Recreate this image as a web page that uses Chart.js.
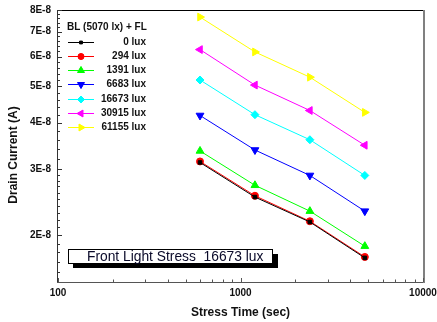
<!DOCTYPE html>
<html>
<head>
<meta charset="utf-8">
<script src="https://cdn.jsdelivr.net/npm/chart.js@4/dist/chart.umd.min.js"></script>
<style>
html,body{margin:0;padding:0;background:#fff;}
canvas{display:block;}
</style>
</head>
<body>
<canvas id="c" width="437" height="322"></canvas>
<script>
// ---- data ----
const stressTimes = [600, 1200, 2400, 4800];
const seriesNames = ['0 lux', '294 lux', '1391 lux', '6683 lux', '16673 lux', '30915 lux', '61155 lux'];
const lux0     = [3.13e-8, 2.53e-8, 2.17e-8, 1.74e-8];
const lux294   = [3.15e-8, 2.55e-8, 2.18e-8, 1.75e-8];
const lux1391  = [3.36e-8, 2.72e-8, 2.32e-8, 1.87e-8];
const lux6683  = [4.18e-8, 3.38e-8, 2.89e-8, 2.32e-8];
const lux16673 = [5.20e-8, 4.20e-8, 3.60e-8, 2.89e-8];
const lux30915 = [6.27e-8, 5.04e-8, 4.31e-8, 3.48e-8];
const lux61155 = [7.66e-8, 6.18e-8, 5.29e-8, 4.26e-8];
const yTickValues = [2e-8, 3e-8, 4e-8, 5e-8, 6e-8, 7e-8, 8e-8];
const yTickLabels = ['2E-8', '3E-8', '4E-8', '5E-8', '6E-8', '7E-8', '8E-8'];
const yMinorValues = [1.6e-8, 1.7e-8, 1.8e-8, 1.9e-8, 2.1e-8, 2.2e-8, 2.3e-8, 2.4e-8, 2.5e-8, 2.6e-8, 2.7e-8, 2.8e-8, 2.9e-8,
  3.2e-8, 3.4e-8, 3.6e-8, 3.8e-8, 4.2e-8, 4.4e-8, 4.6e-8, 4.8e-8, 5.2e-8, 5.4e-8, 5.6e-8, 5.8e-8, 6.2e-8, 6.4e-8, 6.6e-8, 6.8e-8, 7.2e-8, 7.4e-8, 7.6e-8, 7.8e-8];
const xTickValues = [100, 1000, 10000];
const xTickLabels = ['100', '1000', '10000'];
const xMinorValues = [200, 300, 400, 500, 600, 700, 800, 900, 2000, 3000, 4000, 5000, 6000, 7000, 8000, 9000];
const legendTitle = 'BL (5070 lx) + FL';
const annotationText = 'Front Light Stress  16673 lux';
const xTitle = 'Stress Time (sec)';
const yTitle = 'Drain Current (A)';

const seriesValues = [lux0, lux294, lux1391, lux6683, lux16673, lux30915, lux61155];
const colors = ['#000000', '#ff0000', '#00ff00', '#0000ff', '#00ffff', '#ff00ff', '#ffff00'];
const styles = [
  {pointStyle: 'rect', rotation: 0, radius: 2.5},
  {pointStyle: 'circle', rotation: 0, radius: 3.5},
  {pointStyle: 'triangle', rotation: 0, radius: 4.5},
  {pointStyle: 'triangle', rotation: 180, radius: 4.5},
  {pointStyle: 'rectRot', rotation: 0, radius: 4},
  {pointStyle: 'triangle', rotation: -90, radius: 4.5},
  {pointStyle: 'triangle', rotation: 90, radius: 4.5}
];

const datasets = seriesValues.map((vals, i) => ({
  label: seriesNames[i],
  data: vals.map((v, j) => ({x: stressTimes[j], y: v})),
  borderColor: colors[i],
  backgroundColor: colors[i],
  borderWidth: 1,
  pointStyle: styles[i].pointStyle,
  rotation: styles[i].rotation,
  pointRadius: styles[i].radius,
  pointBorderWidth: 1,
  tension: 0
}));

function drawMarker(ctx, st, color, x, y) {
  ctx.save();
  ctx.fillStyle = color; ctx.strokeStyle = color; ctx.lineWidth = 1;
  if (Chart.helpers && Chart.helpers.drawPoint) {
    Chart.helpers.drawPoint(ctx, {pointStyle: st.pointStyle, rotation: st.rotation, radius: st.radius - 0.5, borderWidth: 1}, x, y);
    ctx.fill();
  } else {
    ctx.beginPath(); ctx.arc(x, y, st.radius, 0, Math.PI * 2); ctx.fill();
  }
  ctx.restore();
}

const decor = {
  id: 'decor',
  afterDraw(chart) {
    const ctx = chart.ctx;
    const xs = chart.scales.x, ys = chart.scales.y;
    const a = chart.chartArea;
    ctx.save();
    // frame
    ctx.lineWidth = 1;
    ctx.strokeStyle = '#000';
    ctx.beginPath(); ctx.moveTo(a.left, a.top + 0.5); ctx.lineTo(a.right, a.top + 0.5); ctx.stroke();
    ctx.strokeStyle = '#333';
    ctx.beginPath(); ctx.moveTo(a.left - 0.5, a.top); ctx.lineTo(a.left - 0.5, a.bottom); ctx.stroke();
    ctx.strokeStyle = '#555';
    ctx.beginPath(); ctx.moveTo(a.left - 1, a.bottom + 0.5); ctx.lineTo(a.right + 1, a.bottom + 0.5); ctx.stroke();
    ctx.strokeStyle = '#808080'; ctx.lineWidth = 2;
    ctx.beginPath(); ctx.moveTo(a.right + 1, a.top); ctx.lineTo(a.right + 1, a.bottom + 1); ctx.stroke();
    ctx.lineWidth = 1;
    // y ticks
    ctx.strokeStyle = '#333';
    yTickValues.forEach(v => {
      const y = Math.round(ys.getPixelForValue(v)) + 0.5;
      ctx.beginPath(); ctx.moveTo(a.left, y); ctx.lineTo(a.left + 4, y); ctx.stroke();
    });
    yMinorValues.forEach(v => {
      const y = Math.round(ys.getPixelForValue(v)) + 0.5;
      ctx.beginPath(); ctx.moveTo(a.left, y); ctx.lineTo(a.left + 2, y); ctx.stroke();
    });
    // x ticks
    ctx.strokeStyle = '#555';
    xTickValues.forEach(v => {
      const x = Math.round(xs.getPixelForValue(v)) + 0.5;
      ctx.beginPath(); ctx.moveTo(x, a.bottom); ctx.lineTo(x, a.bottom - 4); ctx.stroke();
    });
    xMinorValues.forEach(v => {
      const x = Math.round(xs.getPixelForValue(v)) + 0.5;
      ctx.beginPath(); ctx.moveTo(x, a.bottom); ctx.lineTo(x, a.bottom - 2.5); ctx.stroke();
    });
    // tick labels
    ctx.fillStyle = '#111';
    ctx.font = 'bold 10px "Liberation Sans", Arial, sans-serif';
    ctx.textAlign = 'right'; ctx.textBaseline = 'middle';
    yTickValues.forEach((v, i) => ctx.fillText(yTickLabels[i], a.left - 7, ys.getPixelForValue(v)));
    ctx.textAlign = 'center'; ctx.textBaseline = 'middle';
    xTickValues.forEach((v, i) => ctx.fillText(xTickLabels[i], xs.getPixelForValue(v), a.bottom + 11));
    // axis titles
    ctx.font = 'bold 12px "Liberation Sans", Arial, sans-serif';
    ctx.fillText(xTitle, (a.left + a.right) / 2, 313);
    ctx.save();
    ctx.translate(14, 155); ctx.rotate(-Math.PI / 2);
    ctx.fillText(yTitle, 0, 0);
    ctx.restore();
    // legend
    ctx.font = 'bold 10px "Liberation Sans", Arial, sans-serif';
    ctx.textAlign = 'left';
    ctx.fillText(legendTitle, 67, 27);
    ctx.textAlign = 'right';
    const ly0 = 41.5, lstep = 14.33;
    chart.data.datasets.forEach((ds, i) => {
      const y = Math.round(ly0 + i * lstep) + 0.5;
      ctx.strokeStyle = ds.borderColor; ctx.lineWidth = 1;
      ctx.beginPath(); ctx.moveTo(68, y); ctx.lineTo(94, y); ctx.stroke();
      drawMarker(ctx, styles[i], ds.borderColor, 81, y);
      ctx.fillStyle = '#111';
      ctx.fillText(ds.label, 146, y);
    });
    // annotation box
    ctx.fillStyle = '#000';
    ctx.fillRect(73, 254, 205, 14);
    ctx.fillStyle = '#fff';
    ctx.fillRect(68, 249, 205, 15);
    ctx.strokeStyle = '#000'; ctx.lineWidth = 1;
    ctx.strokeRect(68.5, 249.5, 204, 14);
    ctx.fillStyle = '#0a0a2a';
    ctx.font = '500 13.8px "Liberation Sans", Arial, sans-serif';
    ctx.textAlign = 'left'; ctx.textBaseline = 'middle';
    ctx.fillText(annotationText, 87, 257);
    ctx.restore();
  }
};

new Chart(document.getElementById('c'), {
  type: 'line',
  data: {datasets},
  options: {
    responsive: false,
    animation: false,
    devicePixelRatio: 1,
    layout: {padding: {left: 58, top: 10, right: 14, bottom: 40}},
    plugins: {legend: {display: false}, tooltip: {enabled: false}},
    scales: {
      x: {type: 'logarithmic', min: 100, max: 10000, display: false},
      y: {type: 'logarithmic', min: 1.5e-8, max: 8e-8, display: false}
    }
  },
  plugins: [decor]
});
</script>
</body>
</html>
